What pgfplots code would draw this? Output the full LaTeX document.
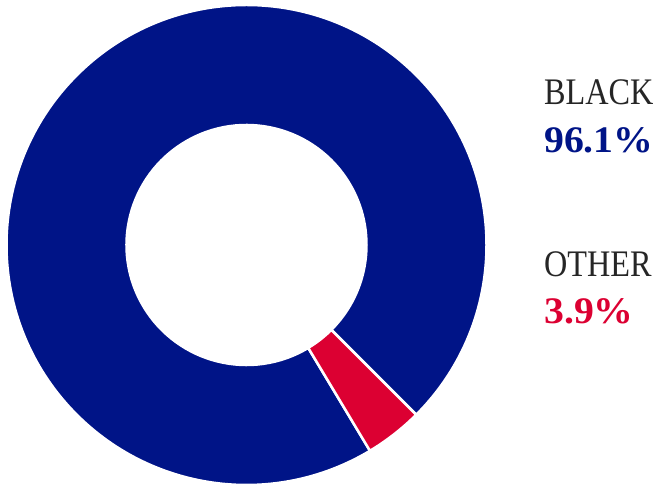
\documentclass[border=0pt]{standalone}
\usepackage{pgfplots}
\pgfplotsset{compat=1.18}
\usepackage{fontspec}
\setmainfont{Liberation Serif}[UprightFeatures={FakeStretch=0.86}, BoldFeatures={FakeStretch=1.06}]
\definecolor{cblue}{RGB}{0,20,135}
\definecolor{cred}{RGB}{220,0,50}
\definecolor{ctext}{RGB}{38,38,38}
% data (percent)
\def\valBlack{96.1}
\def\valOther{3.9}
\def\cx{246.5}
\def\cy{243}
\def\Ro{240}
\def\Ri{120}
\pgfmathsetmacro\aStart{-45}
\pgfmathsetmacro\aBlackEnd{-45+3.6*\valBlack}
\pgfmathsetmacro\aOtherEnd{-45-3.6*\valOther}
\begin{document}
\begin{tikzpicture}
\useasboundingbox (0,0) rectangle (662bp,488bp);
\begin{axis}[at={(0,0)}, anchor=south west, scale only axis,
  width=662bp, height=488bp, xmin=0, xmax=662, ymin=0, ymax=488,
  hide axis, clip=false]
\fill[cblue, draw=white, line width=2.5bp]
  (axis cs:{\cx+\Ro*cos(\aStart)},{\cy+\Ro*sin(\aStart)})
  arc[start angle=\aStart, end angle=\aBlackEnd, radius=\Ro bp]
  -- (axis cs:{\cx+\Ri*cos(\aBlackEnd)},{\cy+\Ri*sin(\aBlackEnd)})
  arc[start angle=\aBlackEnd, end angle=\aStart, radius=\Ri bp] -- cycle;
\fill[cred, draw=white, line width=2.5bp]
  (axis cs:{\cx+\Ro*cos(\aOtherEnd)},{\cy+\Ro*sin(\aOtherEnd)})
  arc[start angle=\aOtherEnd, end angle=\aStart, radius=\Ro bp]
  -- (axis cs:{\cx+\Ri*cos(\aStart)},{\cy+\Ri*sin(\aStart)})
  arc[start angle=\aStart, end angle=\aOtherEnd, radius=\Ri bp] -- cycle;
\node[anchor=base west, inner sep=0pt, text=ctext, font=\fontsize{37.5bp}{45bp}\selectfont] at (axis cs:544,383) {BLACK};
\node[anchor=base west, inner sep=0pt, text=cblue, font=\fontsize{37.5bp}{45bp}\selectfont\bfseries] at (axis cs:544,335) {96.1\%};
\node[anchor=base west, inner sep=0pt, text=ctext, font=\fontsize{37.5bp}{45bp}\selectfont] at (axis cs:544,211) {OTHER};
\node[anchor=base west, inner sep=0pt, text=cred, font=\fontsize{37.5bp}{45bp}\selectfont\bfseries] at (axis cs:544,164) {3.9\%};
\end{axis}
\end{tikzpicture}
\end{document}
